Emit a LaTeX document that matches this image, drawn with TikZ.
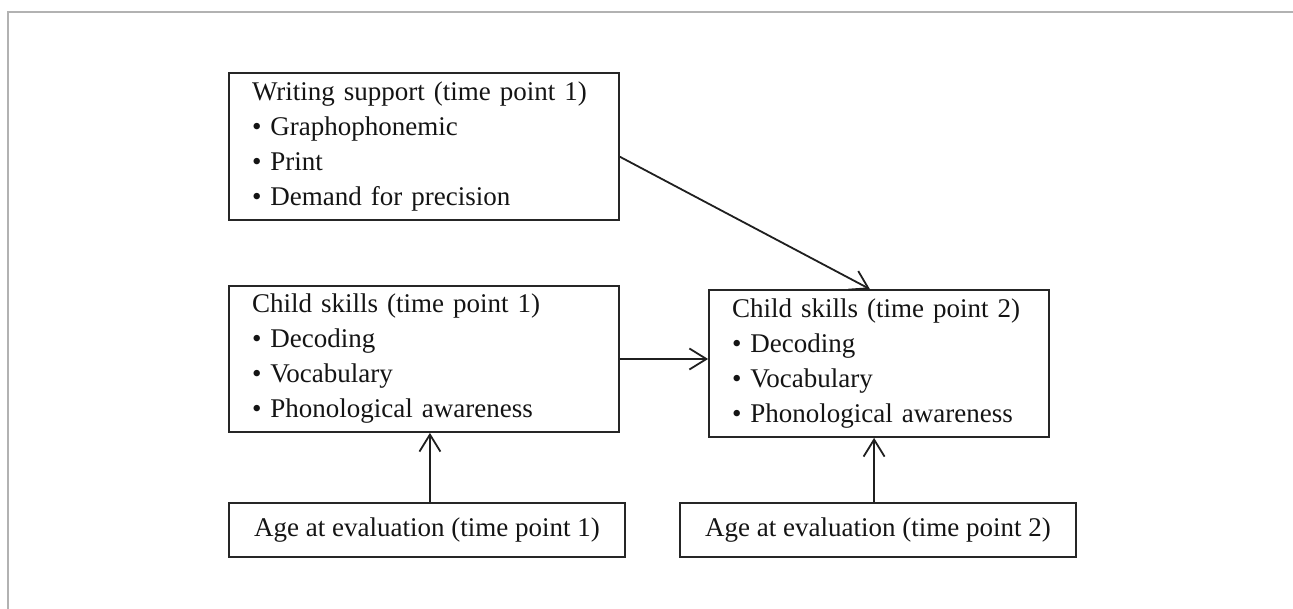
\documentclass[tikz,border=0pt]{standalone}
\usepackage{fontspec}
\setmainfont{Liberation Serif}
\usepackage{tikz}
\usetikzlibrary{arrows.meta}

\begin{document}
\begin{tikzpicture}[x=1pt,y=-1pt,>={Straight Barb[length=17pt,width=21pt]},
  every node/.style={font=\fontsize{27}{35}\selectfont,text=black!92},
  box/.style={rectangle,draw=black!85,line width=1.8pt,inner xsep=23pt,inner ysep=0pt,align=left},
  agebox/.style={box,align=center,minimum width=396pt,minimum height=54pt},
  link/.style={->,draw=black!88,line width=1.8pt}]
  \useasboundingbox (0,0) rectangle (1293,609);
  % grey frame, top and left only
  \draw[black!30,line width=2pt] (8,609) -- (8,12) -- (1293,12);
  \node[box,minimum width=390pt,minimum height=147pt,text width=344pt] (ws1) at (424,146.5) {Writing support (time point 1)\\\textbullet\ Graphophonemic\\\textbullet\ Print\\\textbullet\ Demand for precision};
  \node[box,minimum width=390pt,minimum height=146pt,text width=344pt] (cs1) at (424,359) {Child skills (time point 1)\\\textbullet\ Decoding\\\textbullet\ Vocabulary\\\textbullet\ Phonological awareness};
  \node[box,minimum width=340pt,minimum height=147pt,text width=294pt] (cs2) at (879,363.5) {Child skills (time point 2)\\\textbullet\ Decoding\\\textbullet\ Vocabulary\\\textbullet\ Phonological awareness};
  \node[agebox] (age1) at (427,530) {Age at evaluation (time point 1)};
  \node[agebox] (age2) at (878,530) {Age at evaluation (time point 2)};
  \draw[link] (ws1.-3.7) -- (cs2.97);
  \draw[link] (cs1.-0.9) -- (cs1.-0.9 -| cs2.west);
  \draw[link] (age1.84) -- (age1.84 |- cs1.south);
  \draw[link] (age2.98) -- (age2.98 |- cs2.south);
\end{tikzpicture}
\end{document}
